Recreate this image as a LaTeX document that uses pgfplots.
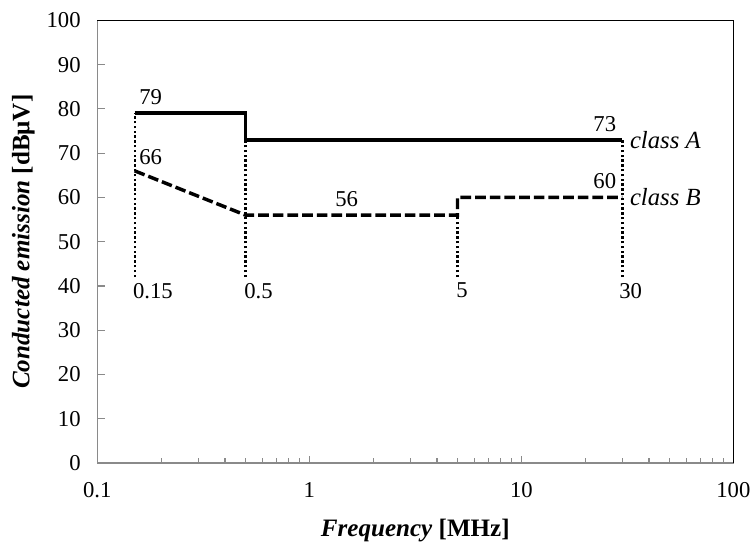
\documentclass[border=0pt]{standalone}
\usepackage{pgfplots}
\pgfplotsset{compat=1.18}
\usepackage{fontspec}
\setmainfont{Liberation Serif}
\definecolor{spine}{HTML}{8A8A8A}

\begin{document}
\begin{tikzpicture}
\begin{axis}[
  scale only axis,
  width=477pt, height=332pt,
  xmode=log, log basis x=10,
  xmin=0.1, xmax=100, ymin=0, ymax=100,
  xtick={0.1,1,10,100}, xticklabels={0.1,1,10,100},
  minor xtick={0.2,0.3,0.4,0.5,0.6,0.7,0.8,0.9,2,3,4,5,6,7,8,9,20,30,40,50,60,70,80,90},
  ytick={0,10,...,100},
  tick align=inside, major tick length=5.5pt, minor tick length=3.8pt,
  tick style={spine, line width=0.9pt},
  axis line style={spine, line width=1.1pt},
  ytick pos=left, xtick pos=bottom,
  /pgf/number format/assume math mode=true,
  ticklabel style={font=\fontsize{17}{19}\selectfont},
  xticklabel style={yshift=-11pt},
  yticklabel style={xshift=-9pt},
  xlabel={\textbf{\textit{Frequency} [MHz]}},
  ylabel={\textbf{\textit{Conducted emission} [dBμV]}},
  label style={font=\fontsize{18.8}{21}\selectfont},
  xlabel style={yshift=-9.5pt},
  ylabel style={yshift=2pt},
  clip=false,
]
\coordinate (O) at (rel axis cs:0,0);
\draw[black, line width=0.8pt] (rel axis cs:0,1) -- (rel axis cs:1,1) -- (rel axis cs:1,0);
% boundary lines
\addplot[black, line width=1.6pt, dash pattern=on 1.8pt off 1.8pt] coordinates {(0.15,42) (0.15,79)};
\addplot[black, line width=1.6pt, dash pattern=on 1.8pt off 1.8pt] coordinates {(0.5,42) (0.5,73)};
\addplot[black, line width=1.6pt, dash pattern=on 1.8pt off 1.8pt] coordinates {(5,42) (5,56)};
\addplot[black, line width=1.6pt, dash pattern=on 1.8pt off 1.8pt] coordinates {(30,42) (30,73)};
% class A
\addplot[black, line width=2.7pt] coordinates {(0.15,79) (0.5,79) (0.5,73) (30,73)};
% class B
\addplot[black, line width=2.6pt, dash pattern=on 8pt off 3pt] coordinates {(0.15,66) (0.5,56) (5,56) (5,60) (30,60)};
\tikzset{lbl/.style={font=\fontsize{17}{19}\selectfont, inner sep=1pt}}
\node[lbl, anchor=south west] at (axis cs:0.155,80.5) {79};
\node[lbl, anchor=south west] at (axis cs:0.155,67) {66};
\node[lbl, anchor=south] at (axis cs:1.5,57.5) {56};
\node[lbl, anchor=south east] at (axis cs:28.5,74.5) {73};
\node[lbl, anchor=south east] at (axis cs:28.5,61.5) {60};
\node[lbl, anchor=west, font=\fontsize{18.5}{21}\selectfont\itshape] at (axis cs:32,73) {class A};
\node[lbl, anchor=west, font=\fontsize{18.5}{21}\selectfont\itshape] at (axis cs:32,60) {class B};
\node[lbl, anchor=north west] at (axis cs:0.145,41) {0.15};
\node[lbl, anchor=north west] at (axis cs:0.485,41) {0.5};
\node[lbl, anchor=north west] at (axis cs:4.85,41) {5};
\node[lbl, anchor=north west] at (axis cs:28.5,41) {30};
\end{axis}
\pgfresetboundingbox
\path (O) ++(-73pt,-59.25pt) rectangle ++(564.75pt,406.5pt);
\end{tikzpicture}
\end{document}
